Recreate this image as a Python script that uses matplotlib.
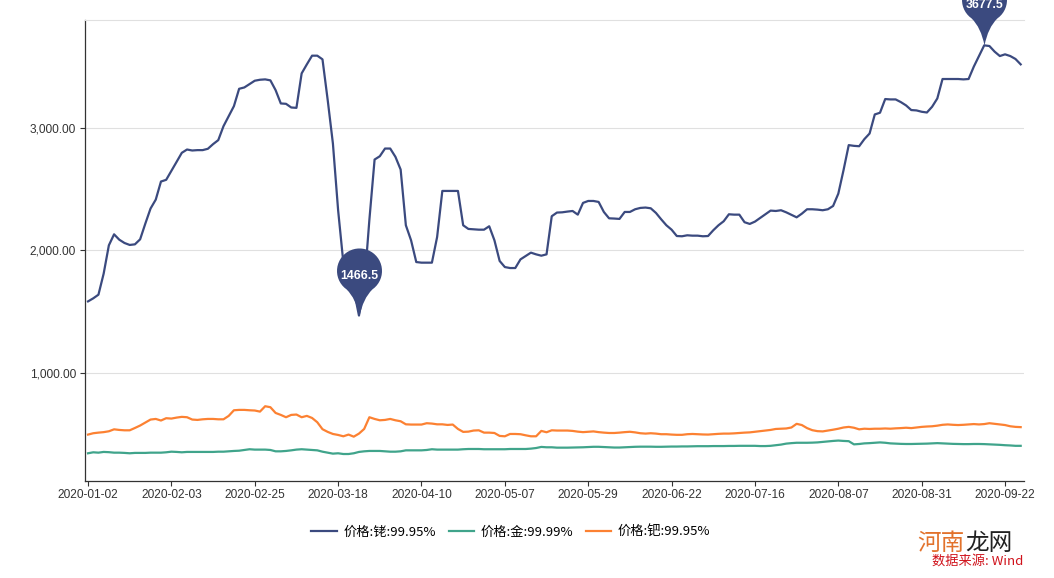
import numpy as np
import matplotlib.pyplot as plt
from matplotlib.path import Path

# 价格 (元/克), one value per trading day, 2020-01-02 .. 2020-09-25
rhodium = [1582, 1607, 1637, 1809, 2041, 2131, 2087, 2060, 2044, 2049,
           2090, 2219, 2342, 2415, 2563, 2577, 2650, 2724, 2798, 2825,
           2817, 2820, 2820, 2831, 2869, 2902, 3016, 3098, 3180, 3322,
           3333, 3361, 3388, 3396, 3399, 3391, 3311, 3202, 3199, 3169,
           3166, 3448, 3522, 3593, 3593, 3563, 3230, 2874, 2328, 1900,
           1790, 1680, 1466.5, 1700, 2250, 2743, 2770, 2833, 2833, 2765,
           2661, 2205, 2082, 1904, 1899, 1899, 1899, 2109, 2486, 2486,
           2486, 2486, 2205, 2175, 2172, 2169, 2169, 2197, 2082, 1913,
           1863, 1855, 1855, 1926, 1954, 1981, 1967, 1956, 1967, 2279,
           2309, 2311, 2317, 2322, 2292, 2388, 2404, 2404, 2396, 2314,
           2262, 2260, 2257, 2314, 2314, 2336, 2347, 2350, 2344, 2306,
           2254, 2205, 2169, 2117, 2115, 2123, 2120, 2120, 2115, 2117,
           2164, 2205, 2238, 2295, 2292, 2292, 2230, 2216, 2235, 2265,
           2295, 2325, 2322, 2328, 2311, 2290, 2270, 2300, 2336, 2336,
           2333, 2328, 2336, 2363, 2464, 2656, 2861, 2855, 2852, 2910,
           2956, 3112, 3126, 3238, 3235, 3235, 3213, 3186, 3148, 3145,
           3134, 3128, 3175, 3243, 3402, 3402, 3402, 3402, 3399, 3402,
           3503, 3590, 3677.5, 3672, 3626, 3590, 3604, 3590, 3566, 3522]

gold = [339, 347, 344, 350, 348, 344, 344, 342, 339, 342,
        342, 342, 344, 344, 344, 347, 352, 350, 347, 350,
        350, 350, 350, 350, 350, 352, 352, 355, 358, 360,
        366, 372, 369, 369, 369, 366, 355, 355, 358, 363,
        369, 372, 369, 366, 363, 352, 344, 336, 339, 333,
        333, 339, 350, 355, 358, 358, 358, 355, 352, 352,
        355, 363, 363, 363, 363, 366, 372, 369, 369, 369,
        369, 369, 372, 374, 374, 374, 372, 372, 372, 372,
        372, 374, 374, 374, 374, 377, 382, 391, 388, 388,
        385, 385, 385, 386, 387, 388, 390, 392, 392, 390,
        388, 386, 386, 388, 390, 392, 393, 393, 393, 392,
        392, 393, 394, 394, 395, 395, 396, 397, 397, 397,
        398, 398, 398, 399, 399, 400, 400, 400, 400, 398,
        398, 400, 405, 410, 418, 422, 425, 425, 425, 426,
        428, 432, 436, 440, 443, 440, 438, 412, 415, 420,
        422, 425, 428, 425, 420, 418, 416, 415, 415, 416,
        417, 418, 420, 422, 420, 418, 416, 415, 414, 414,
        415, 415, 414, 412, 410, 408, 405, 403, 400, 400]

palladium = [492, 503, 508, 512, 519, 535, 530, 527, 527, 546,
             566, 590, 615, 620, 607, 626, 623, 631, 637, 634,
             615, 612, 617, 620, 620, 617, 617, 645, 691, 694,
             694, 691, 689, 680, 724, 716, 669, 653, 634, 653,
             656, 634, 645, 628, 593, 536, 514, 497, 489, 478,
             492, 475, 500, 538, 634, 620, 609, 612, 620, 609,
             601, 576, 574, 574, 574, 585, 582, 576, 576, 571,
             574, 538, 514, 516, 525, 527, 508, 508, 505, 481,
             478, 497, 497, 495, 486, 478, 478, 522, 511, 527,
             525, 525, 525, 522, 516, 512, 515, 518, 512, 508,
             505, 505, 508, 512, 515, 510, 503, 500, 503, 500,
             495, 495, 492, 490, 490, 495, 497, 495, 493, 492,
             495, 498, 500, 500, 502, 505, 508, 510, 515, 520,
             525, 530, 538, 540, 542, 550, 580, 570, 545, 528,
             520, 518, 525, 532, 540, 550, 555, 548, 535, 540,
             538, 540, 540, 542, 540, 543, 545, 548, 545, 550,
             555, 558, 560, 565, 572, 575, 572, 570, 572, 575,
             578, 575, 578, 585, 580, 575, 570, 560, 555, 553]

tick_labels = ['2020-01-02', '2020-02-03', '2020-02-25', '2020-03-18',
               '2020-04-10', '2020-05-07', '2020-05-29', '2020-06-22',
               '2020-07-16', '2020-08-07', '2020-08-31', '2020-09-22']
tick_step = 16
y_ticks = [1000, 2000, 3000]

names = ['价格:铑:99.95%', '价格:金:99.99%', '价格:钯:99.95%']
colors = ['#3b4a7f', '#40a48b', '#fc8132']

plt.rcParams['font.family'] = ['Liberation Sans', 'Noto Sans CJK SC', 'DejaVu Sans']
cjk = ['Noto Sans CJK SC', 'DejaVu Sans']

fig = plt.figure(figsize=(10.54, 5.78), dpi=100)
ax = fig.add_axes([0.0802, 0.1678, 0.8914, 0.7976])

x = np.arange(len(rhodium))
for vals, name, c in zip([rhodium, gold, palladium], names, colors):
    ax.plot(x, vals, color=c, lw=1.6, label=name, solid_joinstyle='round')

ax.set_xlim(-0.67, len(rhodium) - 1 + 0.65)
ax.set_ylim(112, 3885)

ax.set_xticks(np.arange(len(tick_labels)) * tick_step)
ax.set_xticklabels(tick_labels)
ax.set_yticks(y_ticks)
ax.set_yticklabels(['{:,.2f}'.format(v) for v in y_ticks])
ax.tick_params(axis='both', colors='#333333', labelcolor='#333333',
               labelsize=8.6, length=3.6, width=0.8)
ax.tick_params(axis='x', pad=2)
ax.tick_params(axis='y', pad=2.5)

ax.grid(axis='y', color='#e0e0e0', lw=0.8)
ax.set_axisbelow(True)
for side in ['left', 'bottom']:
    ax.spines[side].set_color('#333333')
    ax.spines[side].set_linewidth(0.9)
ax.spines['right'].set_visible(False)
ax.spines['top'].set_color('#e0e0e0')
ax.spines['top'].set_linewidth(0.8)

# pin marker (tip at the data point)
r, cy = 22.5, 45.5
ang = np.deg2rad(np.linspace(-55, 235, 40))
arc = np.column_stack([r * np.cos(ang), cy + r * np.sin(ang)])
verts = [(0, 0), (3.5, 18), tuple(arc[0])] + [tuple(p) for p in arc[1:]] + \
        [(-3.5, 18), (0, 0), (0, 0)]
codes = [Path.MOVETO, Path.CURVE3, Path.CURVE3] + [Path.LINETO] * (len(arc) - 1) + \
        [Path.CURVE3, Path.CURVE3, Path.CLOSEPOLY]
pin = Path(verts, codes)
pin_size = 2 * (cy + r) * 72 / fig.dpi

i_min = int(np.argmin(rhodium))
i_max = int(np.argmax(rhodium))
for i in [i_min, i_max]:
    ax.plot(i, rhodium[i], marker=pin, markersize=pin_size, color=colors[0],
            markeredgewidth=0, clip_on=False, zorder=5)
    ax.annotate('{:g}'.format(rhodium[i]), xy=(i, rhodium[i]), xytext=(0, 40),
                textcoords='offset pixels', ha='center', va='center',
                color='white', fontsize=8.8, fontweight='bold', zorder=6,
                annotation_clip=False)

fig.legend(loc='center', bbox_to_anchor=(511 / 1054, 1 - 532 / 578), ncol=3,
           frameon=False, prop={'family': cjk, 'size': 9.5}, handlelength=1.9,
           handletextpad=0.5, columnspacing=1.0)

fig.text(965 / 1054, 1 - 543 / 578, '河南', family=cjk, fontsize=17,
         color='#e2722c', ha='right', va='center')
fig.text(965 / 1054, 1 - 543 / 578, '龙网', family=cjk, fontsize=17,
         color='#222222', ha='left', va='center')
fig.text(978 / 1054, 1 - 561 / 578, '数据来源: Wind', family=cjk, fontsize=9.5,
         color='#d0121b', style='italic', ha='center', va='center')

fig.savefig('out.png', dpi=100)
